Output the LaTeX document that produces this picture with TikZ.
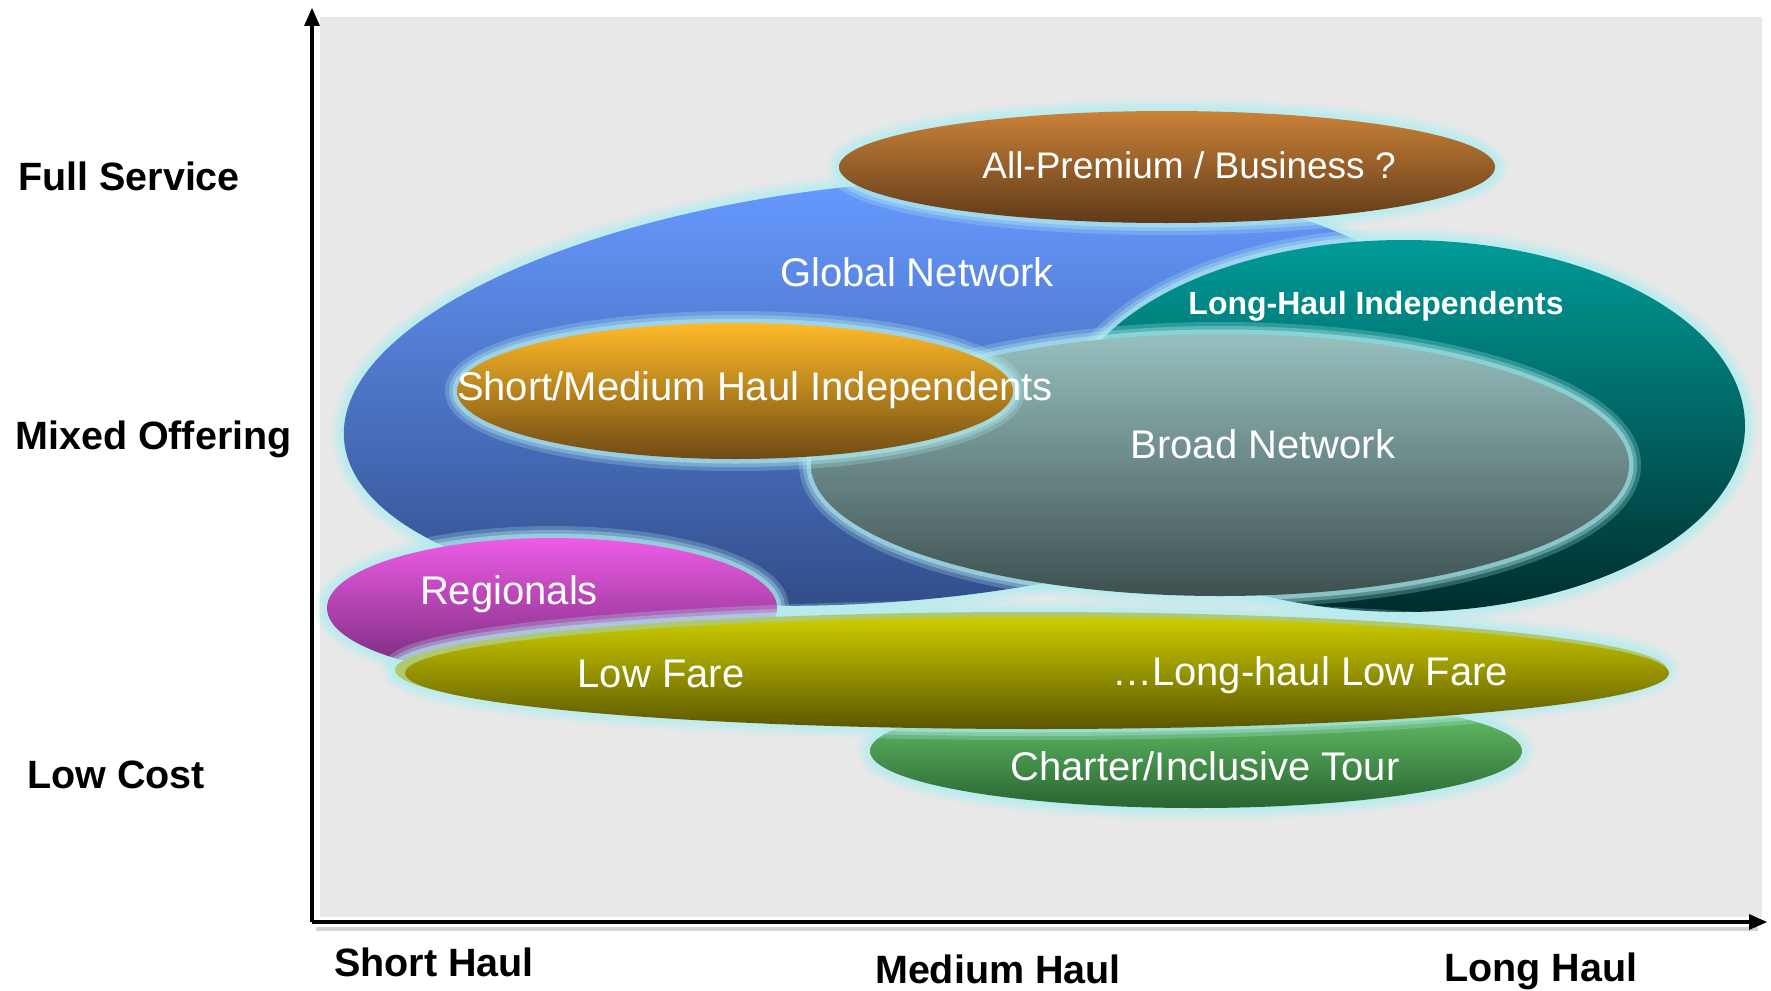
\documentclass[tikz,border=0pt]{standalone}
\usepackage{fontspec}
\setmainfont{Liberation Sans}
\usetikzlibrary{arrows.meta}
\definecolor{bgc}{RGB}{232,232,232}
\definecolor{glowc}{RGB}{178,236,240}
\definecolor{blueT}{RGB}{102,153,255}
\definecolor{blueB}{RGB}{47,74,132}
\definecolor{brownT}{RGB}{202,130,56}
\definecolor{brownB}{RGB}{95,58,25}
\definecolor{tealT}{RGB}{0,155,152}
\definecolor{tealB}{RGB}{0,45,45}
\definecolor{broadT}{RGB}{150,192,190}
\definecolor{broadB}{RGB}{62,80,80}
\definecolor{orangeT}{RGB}{255,186,40}
\definecolor{orangeB}{RGB}{112,76,20}
\definecolor{pinkT}{RGB}{238,92,230}
\definecolor{pinkB}{RGB}{112,40,118}
\definecolor{yelT}{RGB}{205,205,0}
\definecolor{yelB}{RGB}{92,86,0}
\definecolor{yelRim}{RGB}{176,200,110}
\definecolor{greenT}{RGB}{110,205,110}
\definecolor{greenB}{RGB}{40,100,50}
\newcommand\myglow[4]{%
  \draw[glowc, line width=24pt, opacity=0.25, rotate around={#4:#1}] #1 ellipse [x radius=#2, y radius=#3];
  \draw[glowc, line width=16pt, opacity=0.35, rotate around={#4:#1}] #1 ellipse [x radius=#2, y radius=#3];
  \draw[glowc, line width=9pt, opacity=0.55, rotate around={#4:#1}] #1 ellipse [x radius=#2, y radius=#3];
}
\newcommand\myblob[6]{%
  \myglow{#1}{#2}{#3}{#6}
  \shade[top color=#4, bottom color=#5, rotate around={#6:#1}] #1 ellipse [x radius=#2, y radius=#3];
}
\begin{document}
\begin{tikzpicture}[x=1pt,y=-1pt,
  intext/.style={text=white, font=\fontsize{40}{48}\selectfont, inner sep=0pt, text height=29pt, text depth=0pt},
  axlbl/.style={font=\fontsize{39.5}{47}\selectfont\bfseries, inner sep=0pt, text height=28pt, text depth=0pt},
  axisline/.style={line width=3.5pt},
  axhead/.style={fill=black}]
\useasboundingbox (0,0) rectangle (1771,990);
\fill[bgc] (320,17) rectangle (1762,917);
% blobs
\myblob{(897,392)}{555}{209}{blueT}{blueB}{5}
\myblob{(1404,426)}{341}{186}{tealT}{tealB}{0}
\myblob{(1220,465)}{409}{131}{broadT}{broadB}{0}
\myblob{(735,391)}{278}{68}{orangeT}{orangeB}{0}
\myblob{(1167,167)}{328}{56}{brownT}{brownB}{0}
\myblob{(552,608)}{225}{70}{pinkT}{pinkB}{0}
\myblob{(1196,751)}{326}{57}{greenT}{greenB}{0}
\myglow{(1031,670)}{636}{58}{0}
\fill[yelRim] (1031,670) ellipse [x radius=636, y radius=58];
\shade[top color=yelT, bottom color=yelB] (1037,673) ellipse [x radius=632, y radius=56];
% texts
\node[intext, font=\fontsize{37}{44}\selectfont, text height=27pt] (tprem) at (1189,165) {All-Premium / Business ?};
\node[intext] (tglob) at (917,272) {Global Network};
\node[intext, font=\fontsize{32}{38}\selectfont\bfseries, text height=23pt] (tlhi) at (1376,303) {Long-Haul Independents};
\node[intext] (tsmh) at (755,386) {Short/Medium Haul Independents};
\node[intext] (tbroad) at (1263,444) {Broad Network};
\node[intext] (treg) at (509,590) {Regionals};
\node[intext] (tlf) at (661,673) {Low Fare};
\node[intext] (tlhlf) at (1310,671) {…Long-haul Low Fare};
\node[intext] (tchar) at (1205,766) {Charter/Inclusive Tour};
% axes
\coordinate (o) at (312,922);
\coordinate (ytop) at (312,8);
\coordinate (ybase) at (312,26);
\coordinate (xend) at (1767,922);
\coordinate (xbase) at (1749,922);
\coordinate (s1) at (316,929);
\coordinate (s2) at (1758,929);
\draw[gray!70, line width=4pt, opacity=0.5] (s1) -- (s2);
\draw[axisline] (o) -- (ybase);
\draw[axisline] (o) -- (xbase);
\fill[axhead] (ytop) -- ([xshift=-8pt]ybase) -- ([xshift=8pt]ybase) -- cycle;
\fill[axhead] (xend) -- ([yshift=-8pt]xbase) -- ([yshift=8pt]xbase) -- cycle;
\node[axlbl, anchor=west] (lfull) at (18,176) {Full Service};
\node[axlbl, anchor=west] (lmix) at (15,435) {Mixed Offering};
\node[axlbl, anchor=west] (llow) at (27,774) {Low Cost};
\node[axlbl] (lshort) at (434,962) {Short Haul};
\node[axlbl] (lmed) at (998,969) {Medium Haul};
\node[axlbl] (llong) at (1541,967) {Long Haul};
\end{tikzpicture}
\end{document}
